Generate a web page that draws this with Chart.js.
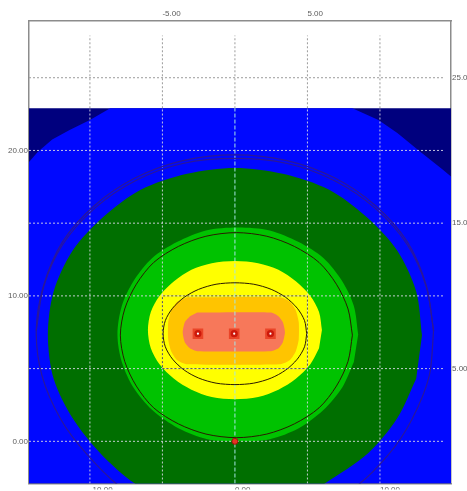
<!DOCTYPE html>
<html>
<head>
<meta charset="utf-8">
<script src="https://cdn.jsdelivr.net/npm/chart.js@4/dist/chart.umd.min.js"></script>
<style>
  html, body { margin: 0; padding: 0; background: #fff; }
  #wrap { width: 467px; height: 491px; position: relative; }
</style>
</head>
<body>
<div id="wrap"><canvas id="plume"></canvas></div>
<script>
const xMin = -14.2, xMax = 14.9, yMin = -2.9, yMax = 28.9;
const dataTop = 22.9; // computed field stops here, white above
const gridTop = 27.9, gridRight = 14.35; // grid lines stop short of the frame

const xTicks = [-10, -5, 0, 5, 10];
const xBottomLabels = ["-10.00", "", "0.00", "", "10.00"];
const xTopLabels = ["", "-5.00", "", "5.00", ""];
const yTicks = [0, 5, 10, 15, 20, 25];
const yLeftLabels = ["0.00", "", "10.00", "", "20.00", ""];
const yRightLabels = ["", "5.00", "", "15.0", "", "25.0"];

// band outlines [x, y], outer to inner
const navyBand = [[-14.2, -2.9], [-14.2, 22.9], [14.9, 22.9], [14.9, -2.9]];
const blueBand = [[-14.2, -2.9], [-14.2, 19.2], [-13.6, 19.9], [-12.6, 20.75], [-11.4, 21.4], [-10.0, 22.1], [-8.6, 22.9],
  [8.1, 22.9], [9.9, 22.1], [11.2, 21.2], [12.8, 19.9], [14.3, 18.7], [14.9, 18.2], [14.9, -2.9]];
const darkGreenBand = [[12.9, 7.3], [12.5, 10.3], [11.2, 13.1], [9.1, 15.4], [6.5, 17.3], [3.3, 18.4], [0, 18.8],
  [-3.3, 18.4], [-6.5, 17.3], [-9.1, 15.4], [-11.2, 13.1], [-12.5, 10.3], [-12.9, 7.3], [-12.5, 4.3], [-11.2, 1.6],
  [-9.3, -0.8], [-6.9, -2.9], [-4.0, -4.3], [0, -4.6], [4.0, -4.3], [6.2, -2.9], [9.2, -0.8], [11.2, 1.6], [12.5, 4.3]];
const greenBand = [[8.5, 7.35], [8.2, 9.3], [7.4, 11.0], [6.1, 12.6], [4.4, 13.7], [2.4, 14.5], [0.2, 14.7],
  [-2.0, 14.5], [-4.0, 13.7], [-5.7, 12.6], [-7.0, 11.0], [-7.8, 9.3], [-8.1, 7.35], [-7.8, 5.45], [-7.0, 3.7],
  [-5.7, 2.15], [-3.9, 0.9], [-1.9, 0.15], [0.2, 0], [2.4, 0.15], [4.4, 0.9], [6.1, 2.15], [7.4, 3.7], [8.2, 5.45]];
const yellowBand = [[6.0, 7.65], [5.8, 8.9], [5.2, 10.0], [4.2, 11.0], [3.0, 11.8], [1.6, 12.25], [0, 12.4],
  [-1.6, 12.25], [-3.0, 11.8], [-4.2, 11.0], [-5.2, 10.0], [-5.8, 8.9], [-6.0, 7.65], [-5.8, 6.4], [-5.2, 5.3],
  [-4.2, 4.3], [-3.0, 3.55], [-1.6, 3.05], [0, 2.9], [1.6, 3.05], [3.0, 3.55], [4.2, 4.3], [5.2, 5.3], [5.8, 6.4]];
const goldBand = [[-3.3, 9.9], [3.1, 9.9], [3.8, 9.6], [4.2, 9.0], [4.4, 8.2], [4.4, 7.0], [4.2, 6.2], [3.8, 5.6],
  [3.1, 5.3], [-3.3, 5.3], [-4.0, 5.6], [-4.4, 6.2], [-4.6, 7.0], [-4.6, 8.2], [-4.4, 9.0], [-4.0, 9.6]];
const salmonBand = [[-2.6, 8.85], [2.5, 8.85], [3.0, 8.6], [3.3, 8.2], [3.45, 7.5], [3.3, 6.8], [3.0, 6.4], [2.5, 6.2],
  [-2.6, 6.2], [-3.1, 6.4], [-3.45, 6.8], [-3.6, 7.5], [-3.45, 8.2], [-3.1, 8.6]];

// isolines
const blueLineOuter = [[13.7, 7.6], [13.2, 10.7], [11.9, 13.7], [9.7, 16.2], [6.9, 18.1], [3.6, 19.3], [0, 19.7],
  [-3.6, 19.3], [-6.9, 18.1], [-9.7, 16.2], [-11.9, 13.7], [-13.2, 10.7], [-13.7, 7.6], [-13.3, 4.5], [-12.0, 1.5],
  [-10.2, -0.9], [-7.8, -3.2], [-4.5, -4.8], [0, -5.3], [4.5, -4.8], [8.2, -3.2], [10.6, -0.9], [12.2, 1.5],
  [13.4, 4.5], [13.7, 7.6]];
const blueLineInner = [[13.7, 7.6], [13.2, 10.6], [11.9, 13.5], [9.7, 16.0], [6.9, 17.9], [3.6, 19.1], [0, 19.45],
  [-3.6, 19.1], [-6.9, 17.9], [-9.7, 16.0], [-11.9, 13.5], [-13.2, 10.6], [-13.7, 7.6]];
const blackLineOuter = [[8.1, 7.3], [7.8, 9.1], [7.0, 10.8], [5.8, 12.3], [4.1, 13.4], [2.2, 14.1], [0.1, 14.35],
  [-2.0, 14.1], [-3.9, 13.4], [-5.6, 12.3], [-6.8, 10.8], [-7.6, 9.1], [-7.9, 7.3], [-7.6, 5.5], [-6.8, 3.8],
  [-5.6, 2.3], [-3.9, 1.2], [-2.0, 0.5], [0.1, 0.25], [2.2, 0.5], [4.1, 1.2], [5.8, 2.3], [7.0, 3.8], [7.8, 5.5],
  [8.1, 7.3]];
const blackLineInner = [[4.95, 7.4], [4.8, 8.3], [4.3, 9.15], [3.5, 9.9], [2.5, 10.45], [1.3, 10.8], [0, 10.9],
  [-1.3, 10.8], [-2.5, 10.45], [-3.5, 9.9], [-4.3, 9.15], [-4.8, 8.3], [-4.95, 7.4], [-4.8, 6.5], [-4.3, 5.65],
  [-3.5, 4.9], [-2.5, 4.35], [-1.3, 4.0], [0, 3.9], [1.3, 4.0], [2.5, 4.35], [3.5, 4.9], [4.3, 5.65], [4.8, 6.5],
  [4.95, 7.4]];

const zoneX = [-5, 5, 5, -5, -5];
const zoneY = [5, 5, 10, 10, 5];
const sourceX = [-2.55, -0.05, 2.45];
const sourceY = [7.4, 7.4, 7.4];
const receptorX = [0];
const receptorY = [0];

const labelFont = { family: '"Liberation Sans", Arial, sans-serif', size: 8 };
const labelColor = "#5c5c5c";
const frameColor = "#8c8c8c";
const gridGray = "#9c9c9c";
const gridLight = "rgba(215,215,228,0.9)";

const toPts = (arr) => arr.map(([x, y]) => ({ x, y }));
const zip = (xs, ys) => xs.map((x, i) => ({ x, y: ys[i] }));

function band(edge, color, tension) {
  return { data: toPts(edge), fill: "shape", backgroundColor: color, borderColor: "transparent",
    borderWidth: 0, pointRadius: 0, tension: tension };
}

function stroke(points, color, dash, width) {
  return { data: points, fill: false, borderColor: color, borderWidth: width || 1,
    borderDash: dash || [], pointRadius: 0, tension: dash ? 0 : 0.3 };
}

function marks(points, color, style, radius, border) {
  return { data: points, showLine: false, pointStyle: style, pointRadius: radius,
    pointBackgroundColor: color, pointBorderColor: border || color, pointBorderWidth: border ? 1 : 0 };
}

const layers = [
  band(navyBand, "#00007e", 0),
  band(blueBand, "#0008ff", 0),
  band(darkGreenBand, "#006f00", 0.3),
  band(greenBand, "#00c200", 0.3),
  band(yellowBand, "#ffff00", 0.3),
  band(goldBand, "#ffc400", 0.2),
  band(salmonBand, "#f7785a", 0.2),
];

// grid: grey over the blank strip, light over the coloured field
xTicks.forEach((v) => {
  layers.push(stroke(toPts([[v, dataTop], [v, gridTop]]), gridGray, [2, 2]));
  layers.push(stroke(toPts([[v, yMin], [v, dataTop]]), v === 0 ? "#a6e6e6" : gridLight, v === 0 ? [4, 2] : [2, 2]));
});
yTicks.forEach((v) => {
  layers.push(stroke(toPts([[xMin, v], [gridRight, v]]), v < dataTop ? gridLight : gridGray, [2, 2]));
});

layers.push(
  stroke(toPts(blueLineOuter), "#2c1896", null, 1.2),
  stroke(toPts(blueLineInner), "#2c1896", null, 1.2),
  stroke(toPts(blackLineOuter), "#2b1c00"),
  stroke(toPts(blackLineInner), "#2b1c00"),
  stroke(zip(zoneX, zoneY), "#555555", [2, 2]),
  marks(zip(sourceX, sourceY), "#ea4428", "rect", 7.5),
  marks(zip(sourceX, sourceY), "#cc180a", "circle", 3.6),
  marks(zip(sourceX, sourceY), "#ffffff", "circle", 1.1),
  marks(zip(receptorX, receptorY), "#e33222", "circle", 3, "#9a1408")
);

// first entry is the backmost
layers.forEach((d, i) => { d.order = layers.length - i; });

function fixTicks(values) {
  return (axis) => { axis.ticks = values.map((v) => ({ value: v })); };
}

new Chart(document.getElementById("plume"), {
  type: "line",
  data: { datasets: layers },
  options: {
    responsive: true,
    maintainAspectRatio: false,
    animation: false,
    events: [],
    layout: { padding: 0 },
    elements: { line: { capBezierPoints: false } },
    plugins: { legend: { display: false }, tooltip: { enabled: false } },
    scales: {
      x: {
        type: "linear", position: "bottom", min: xMin, max: xMax,
        afterBuildTicks: fixTicks(xTicks),
        afterFit: (axis) => { axis.height = 6; },
        ticks: { callback: (v) => xBottomLabels[xTicks.indexOf(v)], align: "start", padding: 1,
          autoSkip: false, maxRotation: 0, minRotation: 0, font: labelFont, color: labelColor },
        grid: { drawOnChartArea: false, drawTicks: false },
        border: { color: frameColor, width: 1.5 },
      },
      x2: {
        type: "linear", position: "top", min: xMin, max: xMax,
        afterBuildTicks: fixTicks(xTicks),
        afterFit: (axis) => { axis.height = 21; },
        ticks: { callback: (v) => xTopLabels[xTicks.indexOf(v)], align: "start", padding: 2,
          autoSkip: false, maxRotation: 0, minRotation: 0, font: labelFont, color: labelColor },
        grid: { drawOnChartArea: false, drawTicks: false },
        border: { color: frameColor, width: 1.5 },
      },
      y: {
        type: "linear", position: "left", min: yMin, max: yMax,
        afterBuildTicks: fixTicks(yTicks),
        afterFit: (axis) => { axis.width = 29; },
        ticks: { callback: (v) => yLeftLabels[yTicks.indexOf(v)], padding: 1, autoSkip: false,
          font: labelFont, color: labelColor },
        grid: { drawOnChartArea: false, drawTicks: false },
        border: { color: frameColor, width: 1.5 },
      },
      y2: {
        type: "linear", position: "right", min: yMin, max: yMax,
        afterBuildTicks: fixTicks(yTicks),
        afterFit: (axis) => { axis.width = 16; },
        ticks: { callback: (v) => yRightLabels[yTicks.indexOf(v)], padding: 1, autoSkip: false,
          font: labelFont, color: labelColor },
        grid: { drawOnChartArea: false, drawTicks: false },
        border: { color: frameColor, width: 1.5 },
      },
    },
  },
});
</script>
</body>
</html>
